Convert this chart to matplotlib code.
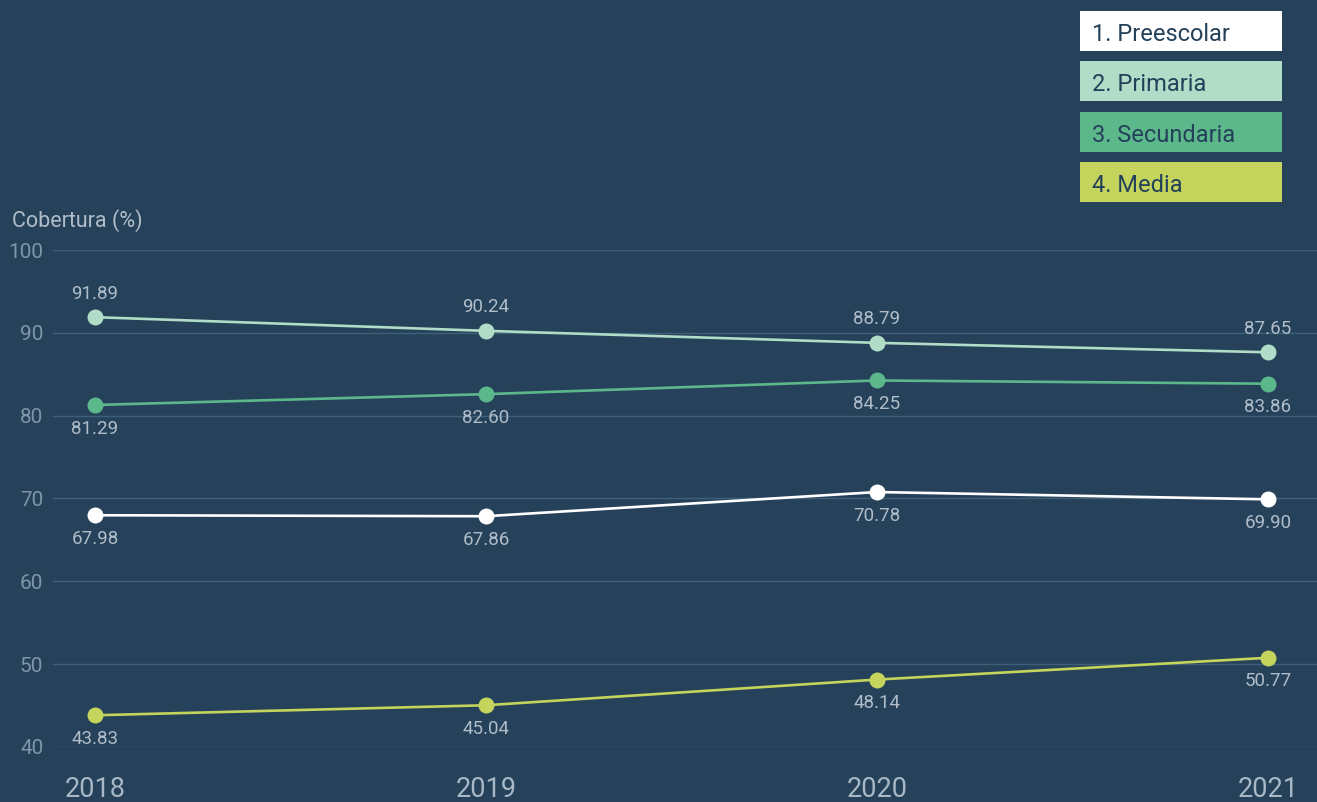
import matplotlib
matplotlib.use("Agg")
import matplotlib.pyplot as plt
from matplotlib.patches import Rectangle

plt.rcParams['font.family'] = ['Roboto', 'DejaVu Sans']

years = [2018, 2019, 2020, 2021]
series_names = ["1. Preescolar", "2. Primaria", "3. Secundaria", "4. Media"]
preescolar = [67.98, 67.86, 70.78, 69.90]
primaria = [91.89, 90.24, 88.79, 87.65]
secundaria = [81.29, 82.60, 84.25, 83.86]
media = [43.83, 45.04, 48.14, 50.77]
yticks = [40, 50, 60, 70, 80, 90, 100]

series = [preescolar, primaria, secundaria, media]
colors = ["#ffffff", "#b1dcc7", "#5cb88b", "#c4d45d"]
label_above = [False, True, False, False]

BG = "#25425a"
W, H = 1317, 802
fig = plt.figure(figsize=(W / 100, H / 100), dpi=100, facecolor=BG)

def fx(px):
    return px / W

def fy(py):
    return 1 - py / H

ax = fig.add_axes([fx(53), fy(747), fx(1317) - fx(53), fy(250) - fy(747)])
ax.set_facecolor(BG)
for s in ax.spines.values():
    s.set_visible(False)

ax.set_xlim(2018 - 42 / 391, 2021 + 49 / 391)
ax.set_ylim(40, 100)
ax.set_yticks(yticks)
ax.set_xticks(years)
ax.set_xticklabels([str(y) for y in years])
ax.yaxis.grid(True, color="#40607a", linewidth=1)
ax.set_axisbelow(True)
ax.tick_params(axis='y', length=0, pad=7, labelsize=15, labelcolor="#8096a8")
ax.tick_params(axis='x', length=0, pad=21, labelsize=19.5, labelcolor="#a9b8c6")

for vals, col, above in zip(series, colors, label_above):
    ax.plot(years, vals, color=col, linewidth=1.9, marker='o', markersize=11.5,
            markeredgewidth=0, zorder=3, clip_on=False)
    for x, v in zip(years, vals):
        off = 17 if above else -17
        ax.annotate(f"{v:.2f}", (x, v), xytext=(0, off), textcoords='offset points',
                    ha='center', va='center', fontsize=13.5, color="#b0bdc9")

fig.text(fx(12), fy(227), "Cobertura (%)", ha='left', va='baseline',
         fontsize=15.5, color="#b0bdc9")

# legend boxes
box_tops = [11, 61, 112, 162]
for name, col, top in zip(series_names, colors, box_tops):
    fig.add_artist(Rectangle((fx(1080), fy(top + 40)), fx(1282) - fx(1080), fy(top) - fy(top + 40),
                             transform=fig.transFigure, facecolor=col, edgecolor='none'))
    fig.text(fx(1092), fy(top + 30), name, ha='left', va='baseline',
             fontsize=17, color="#24415a")

fig.savefig("out.png", dpi=100, facecolor=BG)
